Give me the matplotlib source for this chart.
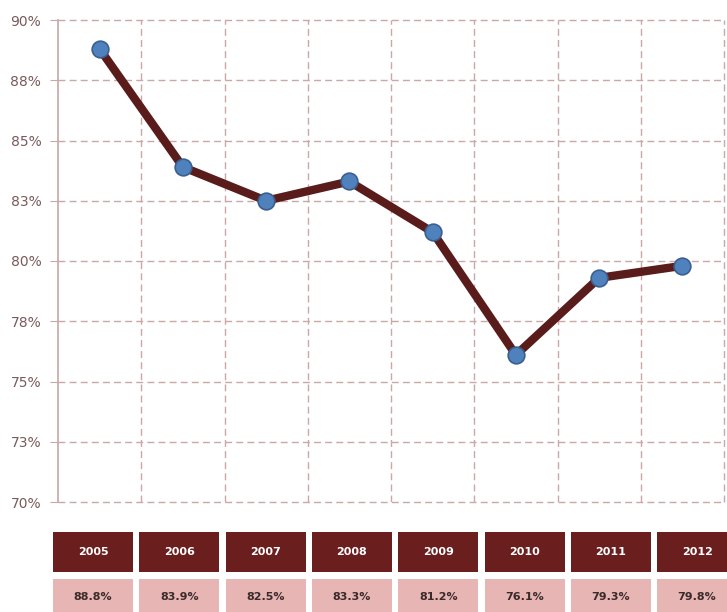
import numpy as np
import matplotlib.pyplot as plt
from matplotlib.ticker import FixedLocator, FuncFormatter

years = ['2005', '2006', '2007', '2008', '2009', '2010', '2011', '2012']
rates = [88.8, 83.9, 82.5, 83.3, 81.2, 76.1, 79.3, 79.8]
y_ticks = [70, 72.5, 75, 77.5, 80, 82.5, 85, 87.5, 90]

line_col = '#5a1b1b'
dot_col = '#4f81bd'
grid_col = '#cba8a8'
head_col = '#6b1e1e'
cell_col = '#e8b5b5'
label_col = '#7a5a5a'

fig = plt.figure(figsize=(7.27, 6.12), dpi=100)
ax = fig.add_axes([58 / 727, 1 - 502 / 612, 666 / 727, 482 / 612])

x = np.arange(len(years))
ax.plot(x, rates, color=line_col, lw=6, solid_capstyle='round', zorder=3)
ax.plot(x, rates, 'o', ms=12, mfc=dot_col, mec='#3b5f8e', mew=1.2, zorder=4)

ax.set_ylim(70, 90)
ax.yaxis.set_major_locator(FixedLocator(y_ticks))
ax.yaxis.set_major_formatter(FuncFormatter(lambda v, _: f'{int(v + 0.5)}%'))
ax.xaxis.set_major_locator(FixedLocator(x[1:] - 0.5))
ax.xaxis.set_ticks_position('none')
ax.set_xticklabels([])
ax.set_xlim(-0.5, len(years) - 0.5)

ax.grid(True, color=grid_col, ls=(0, (5, 3)), lw=1)
for gl in ax.get_ygridlines():
    gl.set_clip_on(False)
ax.plot([len(years) - 0.5] * 2, [70, 90], color=grid_col, ls=(0, (5, 3)), lw=1, clip_on=False)
for side in ['top', 'right', 'bottom']:
    ax.spines[side].set_visible(False)
ax.spines['left'].set_color('#c4a8a8')
ax.spines['left'].set_linewidth(1.2)
ax.tick_params(axis='y', colors=grid_col, length=6, labelcolor=label_col, labelsize=10, pad=6)

# table of yearly values underneath
tab = fig.add_axes([0, 0, 1, 1 - 532 / 612])
tab.set_xlim(0, 727)
tab.set_ylim(0, 80)
tab.axis('off')
cx = 93 + 86.3 * x
tab.bar(cx, 40, width=80, bottom=40, color=head_col)
tab.bar(cx, 37, width=80, bottom=-4, color=cell_col)
for xi, yr, r in zip(cx, years, rates):
    tab.text(xi, 60, yr, color='white', ha='center', va='center', fontsize=8,
             fontweight='bold', family='Liberation Sans Narrow')
    tab.text(xi, 15, f'{r:.1f}%', color='#3a2a2a', ha='center', va='center', fontsize=8,
             fontweight='bold', family='Liberation Sans Narrow')

fig.savefig('out.png', dpi=100)
